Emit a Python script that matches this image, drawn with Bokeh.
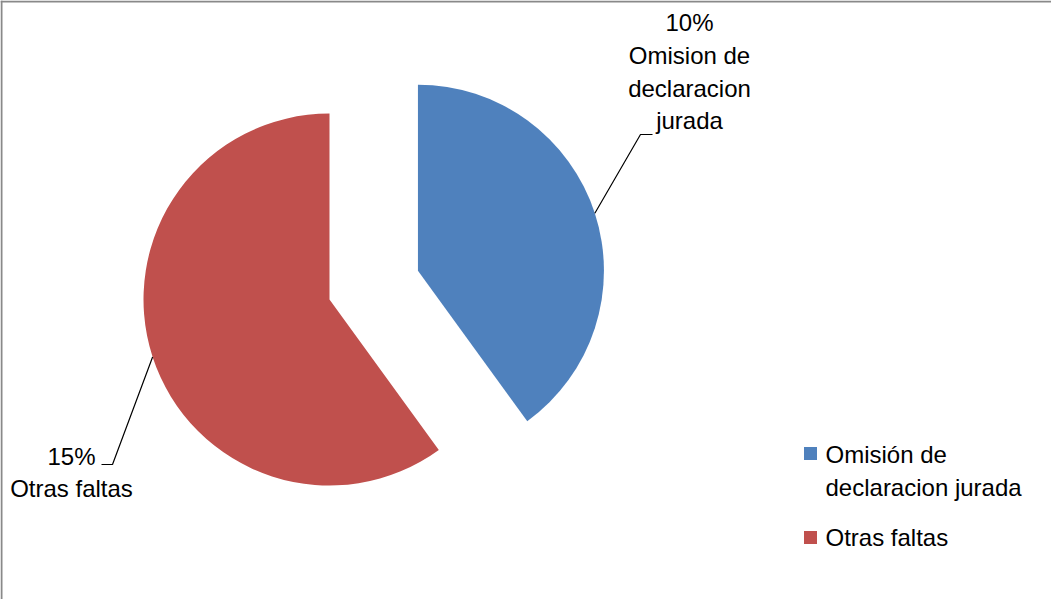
import math
from bokeh.plotting import figure
from bokeh.models import Range1d, Span, ColumnDataSource
from bokeh.core.properties import value
from bokeh.embed import file_html
from bokeh.resources import INLINE

# ---- data ----
categories = ["Omisión de declaracion jurada", "Otras faltas"]
values = [10, 15]
percent_labels = ["10%", "15%"]
slice_labels = ["Omision de\ndeclaracion\njurada", "Otras faltas"]
legend_labels = ["Omisión de\ndeclaracion jurada", "Otras faltas"]
colors = ["#4F81BD", "#C0504D"]
explode = [93, 0]

W, H = 1051, 599
FONT = value("Liberation Sans")
LH = 1.21

def sx(x):
    return x - 8

def sy(y):
    return (H + 8) - y

p = figure(width=W, height=H, x_range=Range1d(0, W), y_range=Range1d(0, H),
           output_backend="svg", toolbar_location=None, min_border=0)
p.axis.visible = False
p.grid.visible = False
p.outline_line_color = None
p.background_fill_color = "white"
p.border_fill_color = "white"

# chart border (left/top visible)
p.add_layout(Span(location=1, dimension="height", line_color="#898989", line_width=2))
p.add_layout(Span(location=H - 1, dimension="width", line_color="#898989", line_width=2))

# ---- pie ----
total = sum(values)
cx0, cy0 = sx(337), sy(307)
R = 186
start = math.pi / 2
starts, ends, cxs, cys, mids = [], [], [], [], []
for v, e in zip(values, explode):
    sweep = v / total * 2 * math.pi
    a0 = start - sweep
    a1 = start
    mid = (a0 + a1) / 2
    starts.append(a0)
    ends.append(a1)
    mids.append(mid)
    cxs.append(cx0 + e * math.cos(mid))
    cys.append(cy0 + e * math.sin(mid))
    start = a0

src = ColumnDataSource(dict(x=cxs, y=cys, s=starts, e=ends, c=colors))
p.wedge(x="x", y="y", radius=R, start_angle="s", end_angle="e",
        fill_color="c", line_color=None, source=src)

# ---- data labels with leader lines ----
label_pos = [(sx(697), sy(79.5)), (sx(79), sy(480))]
elbows = [((sx(648), sy(142)), (sx(660), sy(142))),
          ((sx(120), sy(472)), (sx(109), sy(472)))]
for i in range(len(values)):
    x0 = cxs[i] + R * math.cos(mids[i])
    y0 = cys[i] + R * math.sin(mids[i])
    (ex, ey), (hx, hy) = elbows[i]
    p.line([x0, ex, hx], [y0, ey, hy], line_color="black", line_width=1.2)
    lx, ly = label_pos[i]
    p.text(x=[lx], y=[ly], text=[percent_labels[i] + "\n" + slice_labels[i]],
           text_align="center", text_baseline="middle", text_font=FONT,
           text_font_size="24px", text_line_height=LH, text_color="black")

# ---- legend ----
leg_sq = [(sx(818), sy(461)), (sx(818), sy(545))]
leg_txt = [(sx(833), sy(478.5)), (sx(833), sy(545))]
for i in range(len(categories)):
    qx, qy = leg_sq[i]
    p.scatter(x=[qx], y=[qy], marker="square", size=13, fill_color=colors[i], line_color=None)
    tx, ty = leg_txt[i]
    p.text(x=[tx], y=[ty], text=[legend_labels[i]], text_align="left",
           text_baseline="middle", text_font=FONT, text_font_size="24px",
           text_line_height=LH, text_color="black")

open("out.html", "w").write(file_html(p, INLINE))
